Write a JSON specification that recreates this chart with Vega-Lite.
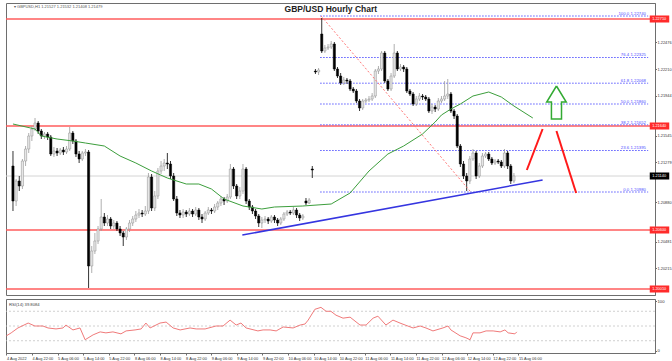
{
"$schema": "https://vega.github.io/schema/vega-lite/v6.json",
"background": "white",
"padding": {"left": 3, "top": 2, "right": 0, "bottom": 0},
"spacing": 2,
"config": {"view": {"stroke": "#6e6e6e", "strokeWidth": 1}, "font": "Liberation Sans", "axis": {"labelFont": "Liberation Sans", "grid": false, "domainColor": "#6e6e6e", "tickColor": "#6e6e6e", "labelColor": "#333333", "labelOverlap": false, "labelSeparation": 0}},
"datasets": {
"candles": [
{"i":0,"o":1.2124,"h":1.2139,"l":1.2079,"c":1.2089},
{"i":1,"o":1.2089,"h":1.2111,"l":1.2084,"c":1.2109},
{"i":2,"o":1.2109,"h":1.2114,"l":1.2099,"c":1.2104},
{"i":3,"o":1.2104,"h":1.2131,"l":1.2101,"c":1.2129},
{"i":4,"o":1.2129,"h":1.2144,"l":1.2124,"c":1.2141},
{"i":5,"o":1.2141,"h":1.2157,"l":1.2137,"c":1.2154},
{"i":6,"o":1.2154,"h":1.2164,"l":1.2149,"c":1.2161},
{"i":7,"o":1.2161,"h":1.2172,"l":1.2159,"c":1.2167},
{"i":8,"o":1.2167,"h":1.2169,"l":1.2156,"c":1.2159},
{"i":9,"o":1.2159,"h":1.2161,"l":1.2151,"c":1.2154},
{"i":10,"o":1.2154,"h":1.2158,"l":1.2151,"c":1.2156},
{"i":11,"o":1.2156,"h":1.2158,"l":1.2150,"c":1.2153},
{"i":12,"o":1.2153,"h":1.2155,"l":1.2134,"c":1.2136},
{"i":13,"o":1.2136,"h":1.2143,"l":1.2133,"c":1.2139},
{"i":14,"o":1.2139,"h":1.2142,"l":1.2134,"c":1.2137},
{"i":15,"o":1.2137,"h":1.2142,"l":1.2135,"c":1.2140},
{"i":16,"o":1.2140,"h":1.2143,"l":1.2135,"c":1.2138},
{"i":17,"o":1.2138,"h":1.2144,"l":1.2136,"c":1.2141},
{"i":18,"o":1.2141,"h":1.2163,"l":1.2139,"c":1.2157},
{"i":19,"o":1.2157,"h":1.2159,"l":1.2146,"c":1.2149},
{"i":20,"o":1.2149,"h":1.2151,"l":1.2133,"c":1.2136},
{"i":21,"o":1.2136,"h":1.2139,"l":1.2127,"c":1.2131},
{"i":22,"o":1.2131,"h":1.2139,"l":1.2129,"c":1.2137},
{"i":23,"o":1.2137,"h":1.2141,"l":1.2134,"c":1.2138},
{"i":24,"o":1.2138,"h":1.2140,"l":1.2002,"c":1.2024},
{"i":25,"o":1.2024,"h":1.2044,"l":1.2017,"c":1.2039},
{"i":26,"o":1.2039,"h":1.2057,"l":1.2036,"c":1.2049},
{"i":27,"o":1.2049,"h":1.2064,"l":1.2046,"c":1.2061},
{"i":28,"o":1.2061,"h":1.2091,"l":1.2059,"c":1.2073},
{"i":29,"o":1.2073,"h":1.2077,"l":1.2064,"c":1.2067},
{"i":30,"o":1.2067,"h":1.2075,"l":1.2064,"c":1.2071},
{"i":31,"o":1.2071,"h":1.2073,"l":1.2061,"c":1.2064},
{"i":32,"o":1.2064,"h":1.2070,"l":1.2061,"c":1.2067},
{"i":33,"o":1.2067,"h":1.2069,"l":1.2059,"c":1.2061},
{"i":34,"o":1.2061,"h":1.2064,"l":1.2054,"c":1.2057},
{"i":35,"o":1.2057,"h":1.2059,"l":1.2044,"c":1.2053},
{"i":36,"o":1.2053,"h":1.2063,"l":1.2050,"c":1.2061},
{"i":37,"o":1.2061,"h":1.2070,"l":1.2058,"c":1.2067},
{"i":38,"o":1.2067,"h":1.2074,"l":1.2064,"c":1.2071},
{"i":39,"o":1.2071,"h":1.2079,"l":1.2068,"c":1.2075},
{"i":40,"o":1.2075,"h":1.2081,"l":1.2072,"c":1.2077},
{"i":41,"o":1.2077,"h":1.2080,"l":1.2073,"c":1.2076},
{"i":42,"o":1.2076,"h":1.2084,"l":1.2074,"c":1.2079},
{"i":43,"o":1.2079,"h":1.2117,"l":1.2076,"c":1.2113},
{"i":44,"o":1.2113,"h":1.2116,"l":1.2079,"c":1.2082},
{"i":45,"o":1.2082,"h":1.2099,"l":1.2079,"c":1.2094},
{"i":46,"o":1.2094,"h":1.2122,"l":1.2091,"c":1.2119},
{"i":47,"o":1.2119,"h":1.2129,"l":1.2116,"c":1.2124},
{"i":48,"o":1.2124,"h":1.2131,"l":1.2119,"c":1.2127},
{"i":49,"o":1.2127,"h":1.2137,"l":1.2121,"c":1.2126},
{"i":50,"o":1.2126,"h":1.2129,"l":1.2111,"c":1.2114},
{"i":51,"o":1.2114,"h":1.2117,"l":1.2089,"c":1.2091},
{"i":52,"o":1.2091,"h":1.2094,"l":1.2074,"c":1.2077},
{"i":53,"o":1.2077,"h":1.2080,"l":1.2072,"c":1.2075},
{"i":54,"o":1.2075,"h":1.2081,"l":1.2072,"c":1.2078},
{"i":55,"o":1.2078,"h":1.2080,"l":1.2073,"c":1.2076},
{"i":56,"o":1.2076,"h":1.2082,"l":1.2074,"c":1.2079},
{"i":57,"o":1.2079,"h":1.2081,"l":1.2073,"c":1.2076},
{"i":58,"o":1.2076,"h":1.2083,"l":1.2074,"c":1.2080},
{"i":59,"o":1.2080,"h":1.2082,"l":1.2070,"c":1.2073},
{"i":60,"o":1.2073,"h":1.2076,"l":1.2067,"c":1.2071},
{"i":61,"o":1.2071,"h":1.2079,"l":1.2069,"c":1.2077},
{"i":62,"o":1.2077,"h":1.2083,"l":1.2075,"c":1.2080},
{"i":63,"o":1.2080,"h":1.2082,"l":1.2076,"c":1.2079},
{"i":64,"o":1.2079,"h":1.2086,"l":1.2077,"c":1.2083},
{"i":65,"o":1.2083,"h":1.2089,"l":1.2080,"c":1.2087},
{"i":66,"o":1.2087,"h":1.2094,"l":1.2084,"c":1.2091},
{"i":67,"o":1.2091,"h":1.2093,"l":1.2085,"c":1.2089},
{"i":68,"o":1.2089,"h":1.2096,"l":1.2087,"c":1.2093},
{"i":69,"o":1.2093,"h":1.2126,"l":1.2091,"c":1.2121},
{"i":70,"o":1.2121,"h":1.2123,"l":1.2101,"c":1.2104},
{"i":71,"o":1.2104,"h":1.2106,"l":1.2091,"c":1.2094},
{"i":72,"o":1.2094,"h":1.2103,"l":1.2091,"c":1.2099},
{"i":73,"o":1.2099,"h":1.2126,"l":1.2096,"c":1.2121},
{"i":74,"o":1.2121,"h":1.2123,"l":1.2086,"c":1.2089},
{"i":75,"o":1.2089,"h":1.2091,"l":1.2080,"c":1.2083},
{"i":76,"o":1.2083,"h":1.2085,"l":1.2076,"c":1.2079},
{"i":77,"o":1.2079,"h":1.2081,"l":1.2071,"c":1.2074},
{"i":78,"o":1.2074,"h":1.2076,"l":1.2063,"c":1.2067},
{"i":79,"o":1.2067,"h":1.2073,"l":1.2062,"c":1.2070},
{"i":80,"o":1.2070,"h":1.2074,"l":1.2067,"c":1.2071},
{"i":81,"o":1.2071,"h":1.2073,"l":1.2066,"c":1.2069},
{"i":82,"o":1.2069,"h":1.2075,"l":1.2067,"c":1.2073},
{"i":83,"o":1.2073,"h":1.2075,"l":1.2067,"c":1.2070},
{"i":84,"o":1.2070,"h":1.2072,"l":1.2064,"c":1.2067},
{"i":85,"o":1.2067,"h":1.2073,"l":1.2065,"c":1.2071},
{"i":86,"o":1.2071,"h":1.2078,"l":1.2069,"c":1.2076},
{"i":87,"o":1.2076,"h":1.2080,"l":1.2074,"c":1.2078},
{"i":88,"o":1.2078,"h":1.2080,"l":1.2075,"c":1.2077},
{"i":89,"o":1.2077,"h":1.2083,"l":1.2075,"c":1.2080},
{"i":90,"o":1.2080,"h":1.2082,"l":1.2072,"c":1.2075},
{"i":91,"o":1.2075,"h":1.2077,"l":1.2069,"c":1.2072},
{"i":92,"o":1.2072,"h":1.2076,"l":1.2070,"c":1.2074},
{"i":93,"o":1.2089,"h":1.2092,"l":1.2085,"c":1.2087},
{"i":94,"o":1.2087,"h":1.2092,"l":1.2086,"c":1.2090},
{"i":95,"o":1.2121,"h":1.2124,"l":1.2112,"c":1.2120},
{"i":96,"o":1.2219,"h":1.2221,"l":1.2216,"c":1.2218},
{"i":97,"o":1.2218,"h":1.2222,"l":1.2215,"c":1.2220},
{"i":98,"o":1.2256,"h":1.2272,"l":1.2237,"c":1.2239},
{"i":99,"o":1.2239,"h":1.2245,"l":1.2237,"c":1.2242},
{"i":100,"o":1.2242,"h":1.2246,"l":1.2240,"c":1.2243},
{"i":101,"o":1.2243,"h":1.2249,"l":1.2241,"c":1.2246},
{"i":102,"o":1.2246,"h":1.2248,"l":1.2219,"c":1.2221},
{"i":103,"o":1.2221,"h":1.2223,"l":1.2212,"c":1.2214},
{"i":104,"o":1.2214,"h":1.2217,"l":1.2205,"c":1.2207},
{"i":105,"o":1.2207,"h":1.2213,"l":1.2205,"c":1.2210},
{"i":106,"o":1.2210,"h":1.2212,"l":1.2206,"c":1.2209},
{"i":107,"o":1.2209,"h":1.2211,"l":1.2199,"c":1.2201},
{"i":108,"o":1.2201,"h":1.2203,"l":1.2197,"c":1.2199},
{"i":109,"o":1.2199,"h":1.2201,"l":1.2187,"c":1.2189},
{"i":110,"o":1.2189,"h":1.2191,"l":1.2179,"c":1.2182},
{"i":111,"o":1.2182,"h":1.2191,"l":1.2180,"c":1.2189},
{"i":112,"o":1.2189,"h":1.2192,"l":1.2187,"c":1.2190},
{"i":113,"o":1.2190,"h":1.2194,"l":1.2188,"c":1.2191},
{"i":114,"o":1.2191,"h":1.2197,"l":1.2189,"c":1.2194},
{"i":115,"o":1.2194,"h":1.2221,"l":1.2192,"c":1.2219},
{"i":116,"o":1.2219,"h":1.2224,"l":1.2216,"c":1.2221},
{"i":117,"o":1.2221,"h":1.2239,"l":1.2219,"c":1.2237},
{"i":118,"o":1.2237,"h":1.2239,"l":1.2207,"c":1.2209},
{"i":119,"o":1.2209,"h":1.2211,"l":1.2199,"c":1.2201},
{"i":120,"o":1.2201,"h":1.2217,"l":1.2199,"c":1.2214},
{"i":121,"o":1.2214,"h":1.2246,"l":1.2212,"c":1.2237},
{"i":122,"o":1.2237,"h":1.2239,"l":1.2219,"c":1.2221},
{"i":123,"o":1.2221,"h":1.2226,"l":1.2219,"c":1.2223},
{"i":124,"o":1.2223,"h":1.2225,"l":1.2218,"c":1.2221},
{"i":125,"o":1.2221,"h":1.2223,"l":1.2197,"c":1.2199},
{"i":126,"o":1.2199,"h":1.2201,"l":1.2194,"c":1.2196},
{"i":127,"o":1.2196,"h":1.2198,"l":1.2184,"c":1.2186},
{"i":128,"o":1.2186,"h":1.2194,"l":1.2184,"c":1.2191},
{"i":129,"o":1.2191,"h":1.2197,"l":1.2189,"c":1.2194},
{"i":130,"o":1.2194,"h":1.2196,"l":1.2190,"c":1.2193},
{"i":131,"o":1.2193,"h":1.2195,"l":1.2189,"c":1.2191},
{"i":132,"o":1.2191,"h":1.2193,"l":1.2177,"c":1.2179},
{"i":133,"o":1.2179,"h":1.2186,"l":1.2176,"c":1.2183},
{"i":134,"o":1.2183,"h":1.2185,"l":1.2178,"c":1.2181},
{"i":135,"o":1.2181,"h":1.2192,"l":1.2179,"c":1.2189},
{"i":136,"o":1.2189,"h":1.2194,"l":1.2187,"c":1.2191},
{"i":137,"o":1.2191,"h":1.2209,"l":1.2189,"c":1.2194},
{"i":138,"o":1.2194,"h":1.2211,"l":1.2191,"c":1.2196},
{"i":139,"o":1.2196,"h":1.2198,"l":1.2177,"c":1.2179},
{"i":140,"o":1.2179,"h":1.2181,"l":1.2171,"c":1.2174},
{"i":141,"o":1.2174,"h":1.2176,"l":1.2142,"c":1.2144},
{"i":142,"o":1.2144,"h":1.2146,"l":1.2123,"c":1.2126},
{"i":143,"o":1.2126,"h":1.2129,"l":1.2111,"c":1.2114},
{"i":144,"o":1.2114,"h":1.2117,"l":1.2099,"c":1.2109},
{"i":145,"o":1.2109,"h":1.2134,"l":1.2106,"c":1.2131},
{"i":146,"o":1.2131,"h":1.2141,"l":1.2129,"c":1.2137},
{"i":147,"o":1.2137,"h":1.2139,"l":1.2111,"c":1.2114},
{"i":148,"o":1.2114,"h":1.2127,"l":1.2112,"c":1.2124},
{"i":149,"o":1.2124,"h":1.2137,"l":1.2122,"c":1.2134},
{"i":150,"o":1.2134,"h":1.2138,"l":1.2132,"c":1.2136},
{"i":151,"o":1.2136,"h":1.2138,"l":1.2129,"c":1.2131},
{"i":152,"o":1.2131,"h":1.2133,"l":1.2125,"c":1.2127},
{"i":153,"o":1.2127,"h":1.2131,"l":1.2125,"c":1.2129},
{"i":154,"o":1.2129,"h":1.2131,"l":1.2126,"c":1.2128},
{"i":155,"o":1.2128,"h":1.2130,"l":1.2122,"c":1.2124},
{"i":156,"o":1.2124,"h":1.2141,"l":1.2122,"c":1.2137},
{"i":157,"o":1.2137,"h":1.2139,"l":1.2121,"c":1.2124},
{"i":158,"o":1.2124,"h":1.2126,"l":1.2106,"c":1.2109},
{"i":159,"o":1.2109,"h":1.2117,"l":1.2107,"c":1.2114}
],
"ma": [
{"i":0,"p":1.2166},{"i":7,"p":1.2161},{"i":9,"p":1.2154},{"i":14,"p":1.2151},{"i":19,"p":1.2149},{"i":23,"p":1.2147},{"i":29,"p":1.2144},{"i":34,"p":1.2134},{"i":39,"p":1.2127},{"i":44,"p":1.2119},{"i":49,"p":1.2112},{"i":55,"p":1.2106},{"i":59,"p":1.2106},{"i":63,"p":1.2101},{"i":67,"p":1.2091},{"i":73,"p":1.2084},{"i":79,"p":1.2081},{"i":83,"p":1.2083},{"i":92,"p":1.2084},{"i":101,"p":1.2086},{"i":107,"p":1.2097},{"i":113,"p":1.2119},{"i":119,"p":1.2136},{"i":124,"p":1.2144},{"i":130,"p":1.2156},{"i":134,"p":1.2168},{"i":136,"p":1.2175},{"i":139,"p":1.2181},{"i":142,"p":1.2186},{"i":146,"p":1.2194},{"i":151,"p":1.2198},{"i":155,"p":1.2193},{"i":159,"p":1.2184},{"i":165,"p":1.2172}
],
"trend": [{"i":72.8,"p":1.2055},{"i":168.1,"p":1.2110}],
"diag": [{"i":97.8,"p":1.2274},{"i":145.3,"p":1.2098}],
"redArrows": [{"seg":"a","i":163.1,"p":1.2120},{"seg":"a","i":168.1,"p":1.2161},{"seg":"b","i":172.5,"p":1.2159},{"seg":"b","i":178.75,"p":1.2097}],
"greenArrow": [{"k":1,"i":172.5,"p":1.2204},{"k":2,"i":175.6,"p":1.2188},{"k":3,"i":174.1,"p":1.2188},{"k":4,"i":174.1,"p":1.2171},{"k":5,"i":170.9,"p":1.2171},{"k":6,"i":170.9,"p":1.2188},{"k":7,"i":169.4,"p":1.2188},{"k":8,"i":172.5,"p":1.2204}],
"fib": [
{"p":1.2274,"label":"100.0 1.22740"},{"p":1.22325,"label":"76.4 1.22325"},{"p":1.22068,"label":"61.8 1.22068"},{"p":1.2186,"label":"50.0 1.21860"},{"p":1.21652,"label":"38.2 1.21652"},{"p":1.21395,"label":"23.6 1.21395"},{"p":1.2098,"label":"0.0 1.20980"}
],
"tags": [
{"p":1.2271,"label":"1.22710","kind":"red"},{"p":1.2164,"label":"1.21640","kind":"red"},{"p":1.2114,"label":"1.21140","kind":"last"},{"p":1.2060,"label":"1.20600","kind":"red"},{"p":1.2001,"label":"1.20010","kind":"red"}
],
"titleText": [{"txt":"GBP/USD Hourly Chart"}],
"infoText": [{"txt":"\u25be GBPUSD,H1  1.21527 1.21532 1.21408 1.21479"}],
"rsi": [
{"i":-0.5,"v":30},{"i":1,"v":36},{"i":3.1,"v":46},{"i":6.3,"v":56},{"i":8.4,"v":50},{"i":10.9,"v":50},{"i":12.5,"v":46},{"i":15,"v":44},{"i":17.2,"v":46},{"i":18.1,"v":52},{"i":20.3,"v":42},{"i":22.5,"v":46},{"i":24.1,"v":22},{"i":26.6,"v":32},{"i":28.8,"v":38},{"i":30.6,"v":36},{"i":32.8,"v":38},{"i":35.3,"v":34},{"i":36.9,"v":40},{"i":39.7,"v":42},{"i":41.6,"v":44},{"i":43.1,"v":56},{"i":44.4,"v":46},{"i":47.5,"v":56},{"i":49.4,"v":58},{"i":51.6,"v":46},{"i":53.8,"v":42},{"i":56.9,"v":46},{"i":58.8,"v":44},{"i":61.6,"v":44},{"i":65,"v":50},{"i":67.2,"v":50},{"i":69.4,"v":62},{"i":71.3,"v":52},{"i":72.8,"v":56},{"i":74.4,"v":46},{"i":78.1,"v":40},{"i":79.7,"v":42},{"i":81.9,"v":42},{"i":83.8,"v":40},{"i":86,"v":48},{"i":89.1,"v":46},{"i":91.3,"v":52},{"i":92.8,"v":54},{"i":93.8,"v":62},{"i":95.9,"v":84},{"i":97.8,"v":88},{"i":99.4,"v":80},{"i":100.9,"v":80},{"i":102.5,"v":72},{"i":104.7,"v":66},{"i":106.9,"v":68},{"i":110,"v":52},{"i":111.9,"v":52},{"i":114.1,"v":66},{"i":115.6,"v":70},{"i":118.1,"v":52},{"i":120.3,"v":62},{"i":122.5,"v":56},{"i":124.1,"v":52},{"i":126.6,"v":46},{"i":128.8,"v":50},{"i":130.6,"v":46},{"i":132.8,"v":40},{"i":135.9,"v":46},{"i":137.5,"v":50},{"i":138.4,"v":42},{"i":141.3,"v":30},{"i":143.1,"v":26},{"i":144.4,"v":22},{"i":145.3,"v":36},{"i":147.5,"v":36},{"i":149.4,"v":40},{"i":151.6,"v":40},{"i":153.8,"v":38},{"i":155.3,"v":42},{"i":156.3,"v":36},{"i":158.4,"v":34},{"i":159,"v":38}
],
"rsiLevels": [{"v":20},{"v":50},{"v":80}],
"rsiText": [{"txt":"RSI(14) 39.8084"}]
},
"vconcat": [
{
"width": 649, "height": 292,
"layer": [
{"data": {"name": "tags"}, "transform": [{"filter": "datum.kind == 'red'"}],
 "mark": {"type": "rule", "color": "#ff5c5c", "strokeWidth": 1.5},
 "encoding": {"y": {"field": "p", "type": "quantitative", "scale": {"domain": [1.1995, 1.2287], "nice": false, "zero": false},
   "axis": {"orient": "right", "title": null, "values": [1.22609,1.22476,1.22343,1.2221,1.22077,1.21944,1.21811,1.21545,1.21412,1.21279,1.21013,1.2088,1.20747,1.20481,1.20348,1.20215], "format": ".5f", "labelFontSize": 3.9, "labelOverlap": false, "tickSize": 1.5, "labelPadding": 0.5, "labelBound": false}}}},
{"data": {"name": "tags"}, "transform": [{"filter": "datum.kind == 'last'"}],
 "mark": {"type": "rule", "color": "#d4d4d4", "strokeWidth": 1},
 "encoding": {"y": {"field": "p", "type": "quantitative", "scale": {"domain": [1.1995, 1.2287], "nice": false, "zero": false}}}},
{"data": {"name": "fib"},
 "mark": {"type": "rule", "color": "#5b5bff", "strokeWidth": 1, "strokeDash": [1.5, 1.5]},
 "encoding": {"x": {"datum": 97.5, "type": "quantitative", "scale": {"domain": [-0.625, 202.1875], "nice": false, "zero": false}, "axis": null}, "x2": {"datum": 201.6},
   "y": {"field": "p", "type": "quantitative", "scale": {"domain": [1.1995, 1.2287], "nice": false, "zero": false}}}},
{"data": {"name": "candles"},
 "mark": {"type": "rule", "strokeWidth": 0.8},
 "encoding": {"x": {"field": "i", "type": "quantitative", "scale": {"domain": [-0.625, 202.1875], "nice": false, "zero": false}, "axis": null},
   "y": {"field": "l", "type": "quantitative", "scale": {"domain": [1.1995, 1.2287], "nice": false, "zero": false}}, "y2": {"field": "h"},
   "color": {"condition": {"test": "datum.c < datum.o", "value": "#000000"}, "value": "#9a9a9a"}}},
{"data": {"name": "candles"},
 "mark": {"type": "bar", "size": 2.2, "strokeWidth": 0.5},
 "encoding": {"x": {"field": "i", "type": "quantitative", "scale": {"domain": [-0.625, 202.1875], "nice": false, "zero": false}, "axis": null},
   "y": {"field": "o", "type": "quantitative", "scale": {"domain": [1.1995, 1.2287], "nice": false, "zero": false}}, "y2": {"field": "c"},
   "fill": {"condition": {"test": "datum.c < datum.o", "value": "#000000"}, "value": "#e6e6e6"},
   "stroke": {"condition": {"test": "datum.c < datum.o", "value": "#000000"}, "value": "#8f8f8f"}}},
{"data": {"name": "ma"},
 "mark": {"type": "line", "color": "#3c9e3c", "strokeWidth": 1},
 "encoding": {"x": {"field": "i", "type": "quantitative", "scale": {"domain": [-0.625, 202.1875], "nice": false, "zero": false}, "axis": null},
   "y": {"field": "p", "type": "quantitative", "scale": {"domain": [1.1995, 1.2287], "nice": false, "zero": false}}}},
{"data": {"name": "trend"},
 "mark": {"type": "line", "color": "#3535e0", "strokeWidth": 1.5},
 "encoding": {"x": {"field": "i", "type": "quantitative", "scale": {"domain": [-0.625, 202.1875], "nice": false, "zero": false}, "axis": null},
   "y": {"field": "p", "type": "quantitative", "scale": {"domain": [1.1995, 1.2287], "nice": false, "zero": false}}}},
{"data": {"name": "diag"},
 "mark": {"type": "line", "color": "#ff7777", "strokeWidth": 1, "strokeDash": [2, 2]},
 "encoding": {"x": {"field": "i", "type": "quantitative", "scale": {"domain": [-0.625, 202.1875], "nice": false, "zero": false}, "axis": null},
   "y": {"field": "p", "type": "quantitative", "scale": {"domain": [1.1995, 1.2287], "nice": false, "zero": false}}}},
{"data": {"name": "redArrows"},
 "mark": {"type": "line", "color": "#ff1a1a", "strokeWidth": 2},
 "encoding": {"x": {"field": "i", "type": "quantitative", "scale": {"domain": [-0.625, 202.1875], "nice": false, "zero": false}, "axis": null},
   "y": {"field": "p", "type": "quantitative", "scale": {"domain": [1.1995, 1.2287], "nice": false, "zero": false}},
   "detail": {"field": "seg"}}},
{"data": {"name": "greenArrow"},
 "mark": {"type": "line", "color": "#33aa33", "strokeWidth": 1.5},
 "encoding": {"x": {"field": "i", "type": "quantitative", "scale": {"domain": [-0.625, 202.1875], "nice": false, "zero": false}, "axis": null},
   "y": {"field": "p", "type": "quantitative", "scale": {"domain": [1.1995, 1.2287], "nice": false, "zero": false}},
   "order": {"field": "k"}}},
{"data": {"name": "fib"},
 "mark": {"type": "text", "align": "right", "baseline": "bottom", "fontSize": 4.3, "color": "#4d4dff", "dy": -0.3},
 "encoding": {"x": {"datum": 200.9, "type": "quantitative", "scale": {"domain": [-0.625, 202.1875], "nice": false, "zero": false}, "axis": null},
   "y": {"field": "p", "type": "quantitative", "scale": {"domain": [1.1995, 1.2287], "nice": false, "zero": false}},
   "text": {"field": "label"}}},
{"data": {"name": "tags"},
 "mark": {"type": "point", "shape": "M-1,-0.36H1V0.36H-1Z", "filled": true, "opacity": 1, "size": 380},
 "encoding": {"x": {"datum": 205.2, "type": "quantitative", "scale": {"domain": [-0.625, 202.1875], "nice": false, "zero": false}, "axis": null},
   "y": {"field": "p", "type": "quantitative", "scale": {"domain": [1.1995, 1.2287], "nice": false, "zero": false}},
   "color": {"condition": {"test": "datum.kind == 'last'", "value": "#000000"}, "value": "#ff2b2b"}}},
{"data": {"name": "tags"},
 "mark": {"type": "text", "align": "center", "baseline": "middle", "fontSize": 3.9, "color": "#ffffff"},
 "encoding": {"x": {"datum": 205.1, "type": "quantitative", "scale": {"domain": [-0.625, 202.1875], "nice": false, "zero": false}, "axis": null},
   "y": {"field": "p", "type": "quantitative", "scale": {"domain": [1.1995, 1.2287], "nice": false, "zero": false}},
   "text": {"field": "label"}}},
{"data": {"name": "titleText"},
 "mark": {"type": "text", "align": "center", "baseline": "middle", "fontSize": 8.5, "fontWeight": "bold", "font": "Liberation Sans", "color": "#222222"},
 "encoding": {"x": {"datum": 100.9, "type": "quantitative", "scale": {"domain": [-0.625, 202.1875], "nice": false, "zero": false}, "axis": null},
   "y": {"datum": 1.2281, "type": "quantitative", "scale": {"domain": [1.1995, 1.2287], "nice": false, "zero": false}},
   "text": {"field": "txt"}}},
{"data": {"name": "infoText"},
 "mark": {"type": "text", "align": "left", "baseline": "middle", "fontSize": 4, "color": "#555555"},
 "encoding": {"x": {"datum": 0.3, "type": "quantitative", "scale": {"domain": [-0.625, 202.1875], "nice": false, "zero": false}, "axis": null},
   "y": {"datum": 1.2283, "type": "quantitative", "scale": {"domain": [1.1995, 1.2287], "nice": false, "zero": false}},
   "text": {"field": "txt"}}}
]
},
{
"width": 649, "height": 54,
"layer": [
{"data": {"name": "rsiLevels"},
 "mark": {"type": "rule", "color": "#c4c4c4", "strokeWidth": 0.8, "strokeDash": [2, 2]},
 "encoding": {"y": {"field": "v", "type": "quantitative", "scale": {"domain": [-5, 105], "nice": false, "zero": false},
   "axis": {"orient": "right", "title": null, "values": [0, 20, 50, 80, 100], "labelFontSize": 4.2, "labelOverlap": false, "tickSize": 1.5, "labelPadding": 0.5}}}},
{"data": {"name": "rsi"},
 "mark": {"type": "line", "color": "#f07a7a", "strokeWidth": 1},
 "encoding": {"x": {"field": "i", "type": "quantitative", "scale": {"domain": [-0.625, 202.1875], "nice": false, "zero": false},
   "axis": {"orient": "bottom", "title": null, "values": [-0.5,7.5,15.5,23.5,31.5,39.5,47.5,55.5,63.5,71.5,79.5,87.5,95.5,103.5,111.5,119.5,127.5,135.5,143.5,151.5,159.5],
     "labelExpr": "['4 Aug 2022','4 Aug 22:00','5 Aug 06:00','5 Aug 14:00','5 Aug 22:00','8 Aug 06:00','8 Aug 14:00','8 Aug 22:00','9 Aug 06:00','9 Aug 14:00','9 Aug 22:00','10 Aug 06:00','10 Aug 14:00','10 Aug 22:00','11 Aug 06:00','11 Aug 14:00','11 Aug 22:00','12 Aug 06:00','12 Aug 14:00','12 Aug 22:00','15 Aug 06:00'][round((datum.value+0.5)/8)]",
     "labelAlign": "left", "labelFontSize": 3.9, "tickSize": 2, "labelPadding": 1, "labelFlush": false, "labelOverlap": false, "labelBound": false, "labelSeparation": 0}},
   "y": {"field": "v", "type": "quantitative", "scale": {"domain": [-5, 105], "nice": false, "zero": false}}}},
{"data": {"name": "rsiText"},
 "mark": {"type": "text", "align": "left", "baseline": "middle", "fontSize": 4.2, "color": "#444444"},
 "encoding": {"x": {"datum": 0.3, "type": "quantitative", "scale": {"domain": [-0.625, 202.1875], "nice": false, "zero": false},
   "axis": {"orient": "bottom", "title": null, "values": [-0.5,7.5,15.5,23.5,31.5,39.5,47.5,55.5,63.5,71.5,79.5,87.5,95.5,103.5,111.5,119.5,127.5,135.5,143.5,151.5,159.5],
     "labelExpr": "['4 Aug 2022','4 Aug 22:00','5 Aug 06:00','5 Aug 14:00','5 Aug 22:00','8 Aug 06:00','8 Aug 14:00','8 Aug 22:00','9 Aug 06:00','9 Aug 14:00','9 Aug 22:00','10 Aug 06:00','10 Aug 14:00','10 Aug 22:00','11 Aug 06:00','11 Aug 14:00','11 Aug 22:00','12 Aug 06:00','12 Aug 14:00','12 Aug 22:00','15 Aug 06:00'][round((datum.value+0.5)/8)]",
     "labelAlign": "left", "labelFontSize": 3.9, "tickSize": 2, "labelPadding": 1, "labelFlush": false, "labelOverlap": false, "labelBound": false, "labelSeparation": 0}},
   "y": {"datum": 93, "type": "quantitative", "scale": {"domain": [-5, 105], "nice": false, "zero": false}},
   "text": {"field": "txt"}}}
]
}
]
}
